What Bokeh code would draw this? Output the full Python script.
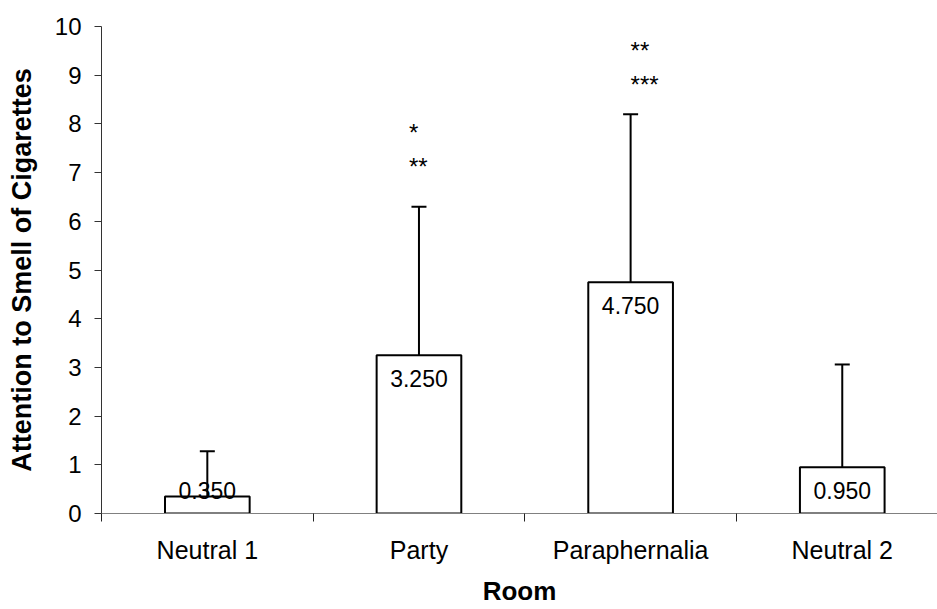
from bokeh.plotting import figure
from bokeh.models import FixedTicker, Range1d, ColumnDataSource, Whisker, TeeHead
from bokeh.core.properties import value
from bokeh.embed import file_html
from bokeh.resources import INLINE

# ---- data ----
categories = ["Neutral 1", "Party", "Paraphernalia", "Neutral 2"]
means = [0.35, 3.25, 4.75, 0.95]
errors = [0.93, 3.05, 3.45, 2.11]
value_labels = ["0.350", "3.250", "4.750", "0.950"]
star_categories = ["Party", "Party", "Paraphernalia", "Paraphernalia"]
star_texts = ["*", "**", "**", "***"]
star_levels = [7.89, 7.19, 9.57, 8.88]
y_ticks = [0, 1, 2, 3, 4, 5, 6, 7, 8, 9, 10]
x_title = "Room"
y_title = "Attention to Smell of Cigarettes"

FONT = "Liberation Sans"

xs = [i + 0.5 for i in range(len(categories))]
upper = [m + e for m, e in zip(means, errors)]
label_pad = 0.47
label_y = [max(m - label_pad, label_pad) for m in means]

p = figure(width=937, height=609, x_range=Range1d(0, 3.95), y_range=Range1d(0, 10),
           output_backend="svg", toolbar_location=None,
           min_border_left=101, min_border_right=0, min_border_top=26, min_border_bottom=96)
p.outline_line_color = None
p.xgrid.visible = False
p.ygrid.visible = False
p.background_fill_color = "white"
p.border_fill_color = "white"

# bars
src = ColumnDataSource(dict(x=xs, mean=means, upper=upper, lab=value_labels, ly=label_y))
p.vbar(x="x", top="mean", bottom=0, width=0.40, source=src,
       fill_color="white", line_color="black", line_width=2)

# error bars (upper only)
w = Whisker(source=src, base="x", lower="mean", upper="upper", dimension="height",
            line_color="black", line_width=2,
            upper_head=TeeHead(size=15, line_color="black", line_width=2),
            lower_head=None)
p.add_layout(w)

# value labels
p.text(x="x", y="ly", text="lab", source=src, text_align="center", text_baseline="middle",
       text_font=value(FONT), text_font_size="23px", text_color="black")

# significance stars
star_x = [categories.index(c) + 0.5 for c in star_categories]
star_dx = [-10 if c == "Party" else 0 for c in star_categories]
ssrc = ColumnDataSource(dict(x=star_x, y=star_levels, t=star_texts, dx=star_dx))
p.text(x="x", y="y", text="t", source=ssrc, x_offset="dx", y_offset=3,
       text_align="left", text_baseline="middle",
       text_font=value(FONT), text_font_size="24px", text_color="black")

# x axis
p.xaxis.ticker = FixedTicker(ticks=xs, minor_ticks=[0, 1, 2, 3, 4])
p.xaxis.major_label_overrides = {x: c for x, c in zip(xs, categories)}
p.xaxis.major_tick_out = 0
p.xaxis.major_tick_in = 0
p.xaxis.minor_tick_out = 8
p.xaxis.minor_tick_in = 0
p.xaxis.minor_tick_line_color = "#222222"
p.xaxis.axis_line_color = "#808080"
p.xaxis.major_label_text_font = FONT
p.xaxis.major_label_text_font_size = "25px"
p.xaxis.major_label_text_color = "black"
p.xaxis.major_label_standoff = 14
p.xaxis.axis_label = x_title
p.xaxis.axis_label_text_font = FONT
p.xaxis.axis_label_text_font_size = "26px"
p.xaxis.axis_label_text_font_style = "bold"
p.xaxis.axis_label_text_color = "black"
p.xaxis.axis_label_standoff = 9

# y axis
p.yaxis.ticker = FixedTicker(ticks=y_ticks)
p.yaxis.major_tick_out = 7
p.yaxis.major_tick_in = 0
p.yaxis.minor_tick_out = 0
p.yaxis.minor_tick_in = 0
p.yaxis.axis_line_color = "#333333"
p.yaxis.major_tick_line_color = "#333333"
p.yaxis.major_label_text_font = FONT
p.yaxis.major_label_text_font_size = "24px"
p.yaxis.major_label_text_color = "black"
p.yaxis.major_label_standoff = 13
p.yaxis.axis_label = y_title
p.yaxis.axis_label_text_font = FONT
p.yaxis.axis_label_text_font_size = "27px"
p.yaxis.axis_label_text_font_style = "bold"
p.yaxis.axis_label_text_color = "black"
p.yaxis.axis_label_standoff = 15

open("out.html", "w").write(file_html(p, INLINE))
